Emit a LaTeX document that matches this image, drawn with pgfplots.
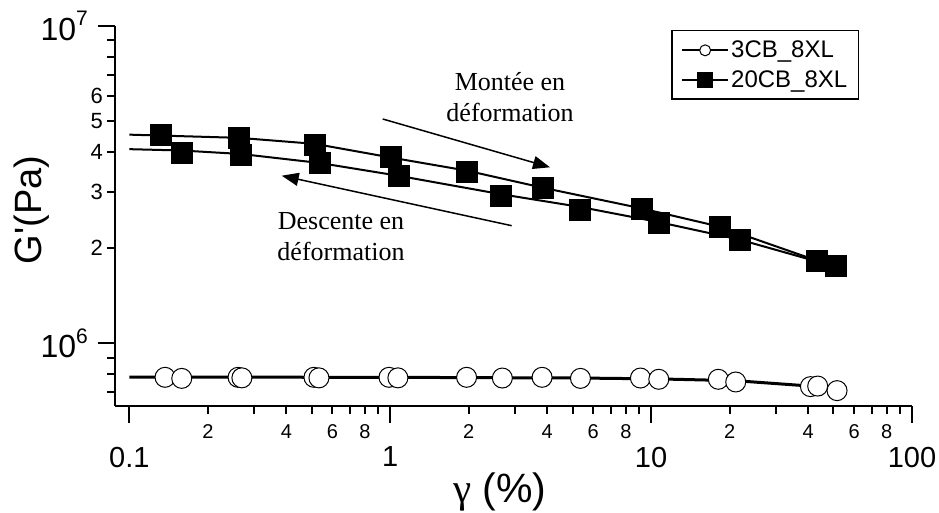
\documentclass[border=0pt]{standalone}
\usepackage{fontspec}
\setmainfont{Liberation Sans}
\newfontfamily\seriffont{Liberation Serif}
\usepackage{pgfplots}
\pgfplotsset{compat=1.18}
\usetikzlibrary{arrows.meta}
\newcommand{\fs}[1]{\fontsize{#1}{#1}\selectfont}
\begin{document}
\begin{tikzpicture}
\begin{axis}[
  at={(115pt,107.3pt)}, anchor=south west,
  scale only axis, width=797pt, height=379.7pt,
  xmode=log, ymode=log,
  xmin=0.0881, xmax=100, ymin=6.357e5, ymax=1e7,
  axis lines*=left,
  axis line style={line width=2pt},
  tick align=outside,
  major tick length=17pt, minor tick length=8pt,
  tick style={black, line width=2pt},
  xtick={0.1,1,10,100}, xticklabels={0.1,1,10,100},
  minor xtick={0.2,0.3,0.4,0.5,0.6,0.7,0.8,0.9,2,3,4,5,6,7,8,9,20,30,40,50,60,70,80,90},
  ytick={1e6,1e7},
  yticklabels={{10\raisebox{0.45em}{\fs{21}6}},{10\raisebox{0.45em}{\fs{21}7}}},
  minor ytick={7e5,8e5,9e5,2e6,3e6,4e6,5e6,6e6,7e6,8e6,9e6},
  xticklabel style={font=\fs{29}, inner sep=0pt, anchor=north, yshift=-24pt},
  yticklabel style={font=\fs{32}, inner sep=0pt, anchor=east, xshift=-10pt},
  extra x ticks={0.2,0.4,0.6,0.8,2,4,6,8,20,40,60,80},
  extra x tick labels={2,4,6,8,2,4,6,8,2,4,6,8},
  extra x tick style={major tick length=8pt, xticklabel style={font=\fs{20}, yshift=13pt}},
  extra y ticks={2e6,3e6,4e6,5e6,6e6},
  extra y tick labels={2,3,4,5,6},
  extra y tick style={major tick length=8pt, yticklabel style={font=\fs{22}, xshift=6pt}},
  legend style={at={(0.9335,0.9895)}, anchor=north east, draw=black, line width=1.5pt,
    font=\fs{24}, inner xsep=9pt, inner ysep=8.5pt, row sep=7pt,
    nodes={inner sep=2pt},
    /tikz/every even column/.append style={column sep=7pt}},
  legend cell align=left,
  legend image code/.code={\draw[#1, mark repeat=2, mark phase=2] plot coordinates {(0pt,0pt) (23pt,0pt) (46pt,0pt)};},
]
% lines
\addplot[black, line width=3pt, no marks, forget plot] coordinates {
 (0.1,7.82e5) (1,7.81e5) (5.36,7.77e5) (10.7,7.72e5) (21.1,7.62e5) (40.8,7.33e5)};
\addplot[black, line width=2pt, no marks, forget plot] coordinates {
 (0.1,4.544e6) (0.2633,4.44e6) (0.5146,4.25e6) (1.006,3.85e6) (1.967,3.50e6)
 (3.858,3.09e6) (9.21,2.66e6) (18.34,2.33e6) (43.3,1.82e6)};
\addplot[black, line width=2pt, no marks, forget plot] coordinates {
 (0.1,4.09e6) (0.1588,4.05e6) (0.268,3.95e6) (0.536,3.70e6) (1.08,3.37e6)
 (2.656,2.95e6) (5.33,2.69e6) (10.67,2.41e6) (21.9,2.12e6) (39.4,1.85e6) (51.0,1.76e6)};
% circle marks
\addplot[only marks, mark=*, mark size=10pt, mark options={fill=white, draw=black, line width=1pt}, forget plot] coordinates {
 (0.137,7.81e5) (0.1588,7.75e5) (0.261,7.81e5) (0.270,7.78e5) (0.510,7.81e5) (0.533,7.78e5)
 (0.989,7.81e5) (1.07,7.78e5) (1.962,7.81e5) (2.69,7.77e5) (3.82,7.81e5) (5.36,7.75e5)
 (9.10,7.77e5) (10.7,7.70e5) (18.1,7.70e5) (21.1,7.55e5) (40.8,7.30e5) (43.5,7.33e5) (51.6,7.09e5)};
% square marks
\addplot[only marks, mark=square*, mark size=10.5pt, mark options={fill=black, draw=black}, forget plot] coordinates {
 (0.1323,4.557e6) (0.2633,4.446e6) (0.5146,4.231e6) (1.006,3.874e6) (1.967,3.474e6)
 (3.858,3.093e6) (9.21,2.660e6) (18.34,2.331e6) (43.3,1.821e6)};
\addplot[only marks, mark=square*, mark size=10.5pt, mark options={fill=black, draw=black}, forget plot] coordinates {
 (0.1588,4.000e6) (0.268,3.942e6) (0.536,3.714e6) (1.080,3.375e6) (2.656,2.919e6)
 (5.33,2.645e6) (10.67,2.399e6) (21.9,2.116e6) (51.0,1.761e6)};
\addlegendimage{black, line width=2pt, mark=*, mark size=5.5pt, mark options={fill=white, draw=black, line width=1pt}}
\addlegendentry{3CB\_8XL}
\addlegendimage{black, line width=2pt, mark=square*, mark size=7pt, mark options={fill=black}}
\addlegendentry{20CB\_8XL}
\end{axis}
\draw[line width=1.5pt, -{Triangle[length=17pt,width=13pt]}] (382.7pt,394pt) -- (550pt,345.7pt);
\draw[line width=1.5pt, -{Triangle[length=17pt,width=13pt]}] (511.7pt,287.3pt) -- (281.7pt,337.3pt);
\node[font=\seriffont\fontsize{26}{31}\selectfont, align=center] at (510pt,416pt) {Montée en\\déformation};
\node[font=\seriffont\fontsize{26}{31}\selectfont, align=center] at (341pt,276.3pt) {Descente en\\déformation};
\node[rotate=90, font=\fs{38}] at (32pt,303pt) {G\textquotesingle(Pa)};
\node[font=\fs{41}] at (500pt,21pt) {{\seriffont γ} (\%)};
\pgfresetboundingbox
\path[use as bounding box] (0,0) rectangle (939pt,513pt);
\end{tikzpicture}
\end{document}
